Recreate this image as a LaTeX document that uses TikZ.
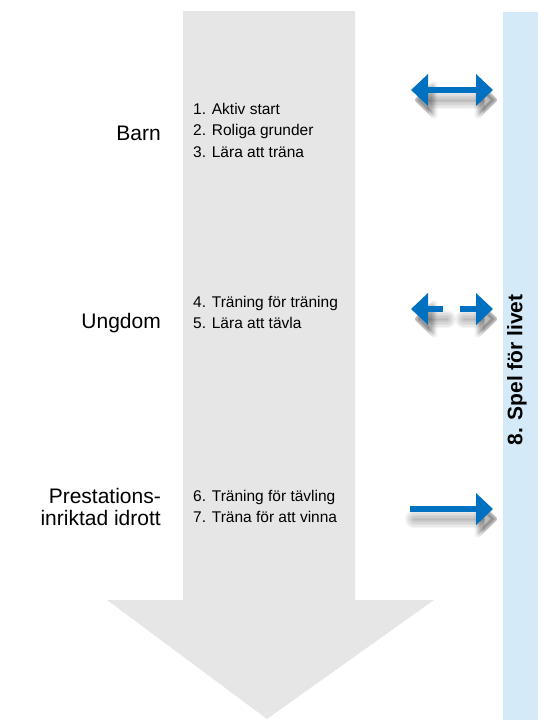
\documentclass[tikz,border=0pt]{standalone}
\usepackage{fontspec}
\setmainfont{Liberation Sans}
\usetikzlibrary{arrows.meta}
\definecolor{pilblue}{RGB}{0,112,192}
\definecolor{bandblue}{RGB}{213,234,248}
\definecolor{stegrey}{RGB}{230,230,230}

\begin{document}
\begin{tikzpicture}[x=1pt, y=-1pt,
        agelabel/.style={inner sep=0pt, align=right, font=\fontsize{21}{21.7}\selectfont},
        steplist/.style={anchor=north west, inner sep=0pt, align=left, font=\fontsize{15.5}{21.5}\selectfont},
        pil/.style={line width=6pt, draw=pilblue, >={Triangle[length=17pt, width=31pt]}},
        pilshadow/.style n args={3}{line width=#1pt, draw=black, opacity=0.045, line cap=round, >={Triangle[length=#3pt, width=#2pt, round]}, transform canvas={xshift=4pt, yshift=-10pt}}]
        \useasboundingbox (0,0) rectangle (547,720);
        % big grey arrow and the blue band
        \fill[stegrey] (183,11) -- (355,11) -- (355,600) -- (434,600) -- (267,719) -- (107,600) -- (183,600) -- cycle;
        \fill[bandblue] (503,12) rectangle (538,720);
        \node[rotate=90, inner sep=0pt, font=\fontsize{21}{22}\selectfont\bfseries] (livet) at (517,370) {8. Spel för livet};
        % age groups
        \node[agelabel, anchor=base east] (barn) at (161,140) {Barn};
        \node[agelabel, anchor=base east] (ungdom) at (161,328) {Ungdom};
        \node[agelabel, anchor=north east] (prestation) at (161,488) {Prestations-\\inriktad idrott};
        \node[steplist] (lista1) at (193,103) {1. Aktiv start\\2. Roliga grunder\\3. Lära att träna};
        \node[steplist] (lista2) at (193,296) {4. Träning för träning\\5. Lära att tävla};
        \node[steplist] (lista3) at (193,490) {6. Träning för tävling\\7. Träna för att vinna};
        % arrows towards the band
        \coordinate (b1l) at (411,90);  \coordinate (b1r) at (493,90);
        \coordinate (b2l) at (411,309); \coordinate (b2a) at (443,309);
        \coordinate (b2b) at (460,309); \coordinate (b2r) at (493,309);
        \coordinate (b3l) at (410,509); \coordinate (b3r) at (493,509);
        \foreach \w/\tw/\tl in {18/45/24, 15/42/22, 12/39/21, 9/36/20, 6/33/18, 3/30/16, 1/26/14} {
            \draw[pilshadow={\w}{\tw}{\tl}, <->] (b1l) -- (b1r);
            \draw[pilshadow={\w}{\tw}{\tl}, ->] (b2a) -- (b2l);
            \draw[pilshadow={\w}{\tw}{\tl}, ->] (b2b) -- (b2r);
            \draw[pilshadow={\w}{\tw}{\tl}, ->] (b3l) -- (b3r);
        }
        \draw[pil, <->] (b1l) -- (b1r);
        \draw[pil, ->] (b2a) -- (b2l);
        \draw[pil, ->] (b2b) -- (b2r);
        \draw[pil, ->] (b3l) -- (b3r);
\end{tikzpicture}
\end{document}
